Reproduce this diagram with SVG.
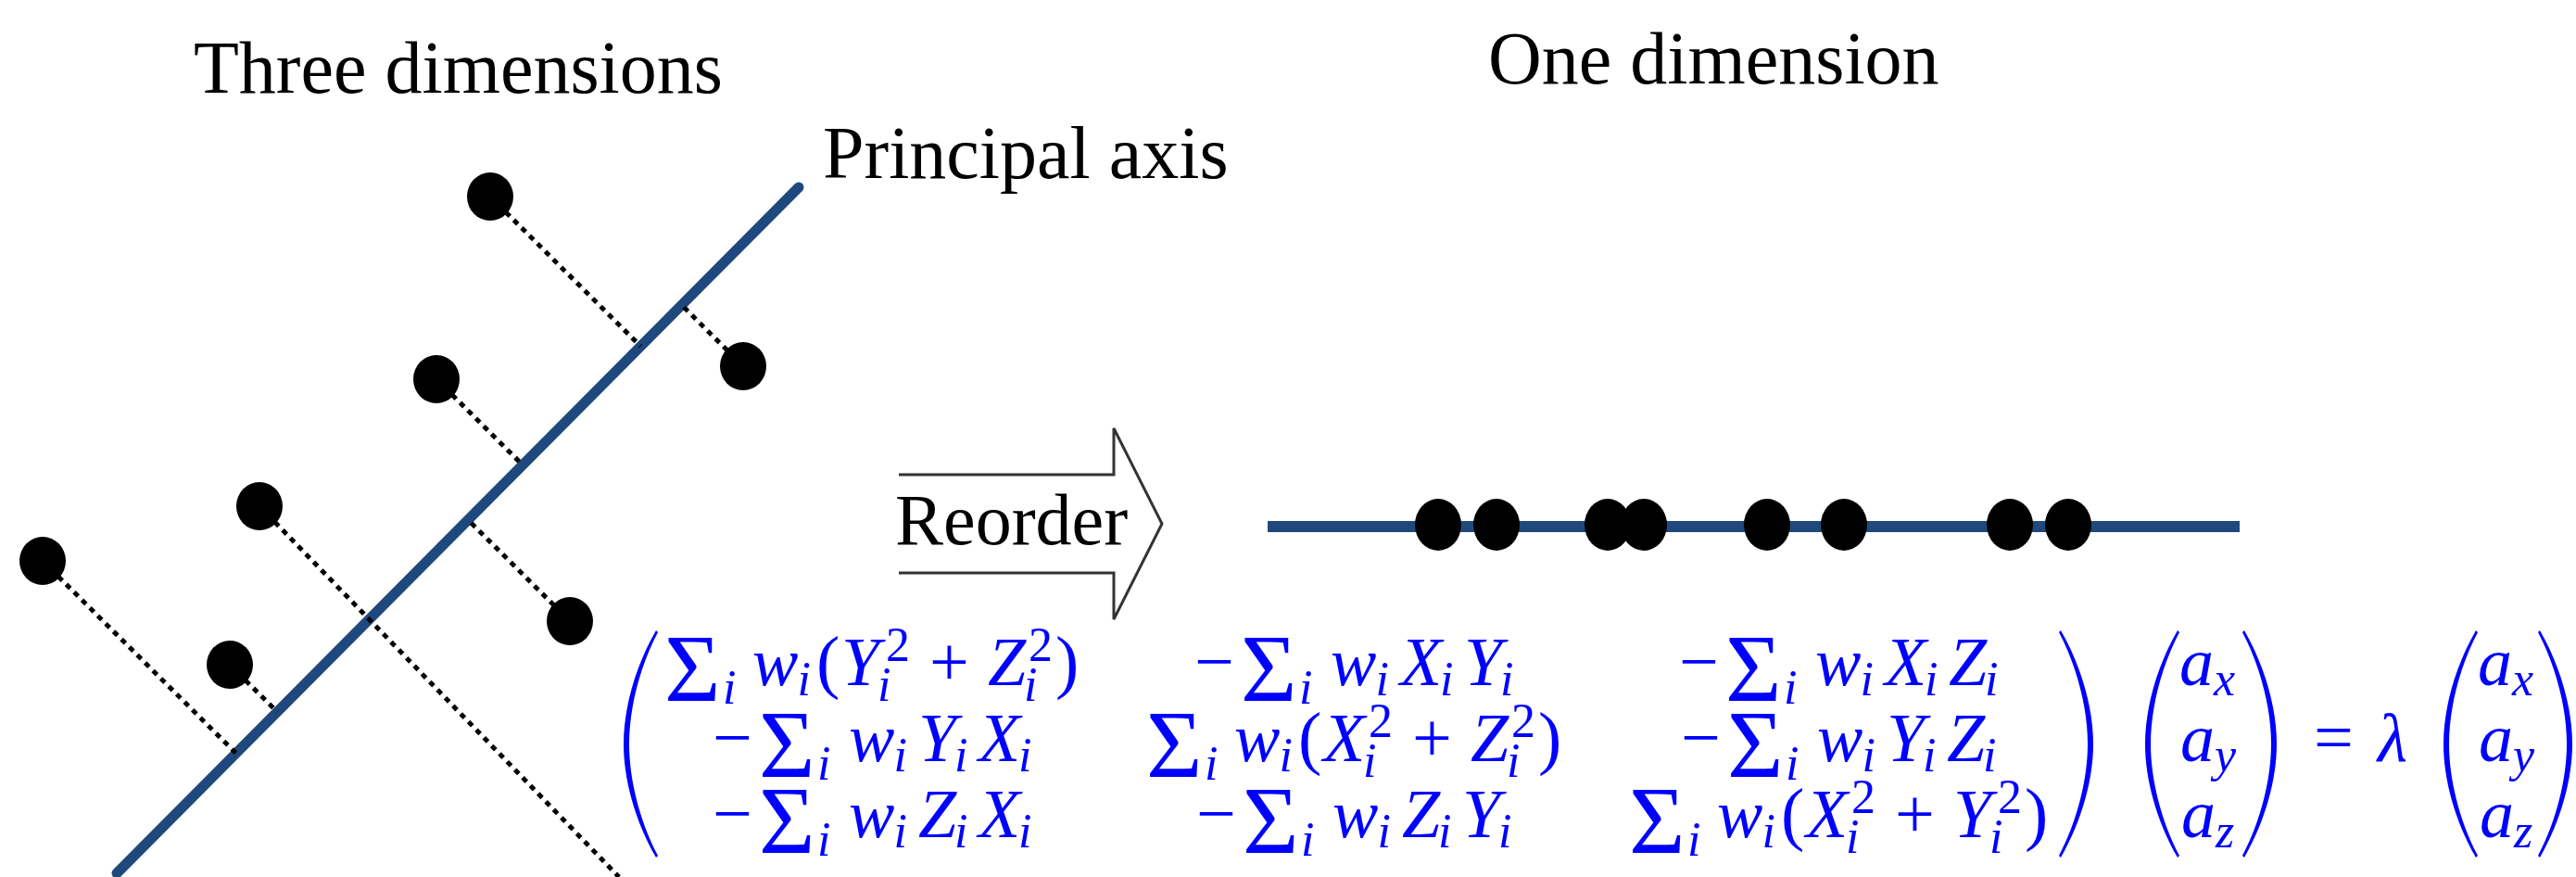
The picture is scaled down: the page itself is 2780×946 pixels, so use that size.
<svg xmlns="http://www.w3.org/2000/svg" width="2780" height="946" viewBox="0 0 2780 946">
<style>
.title{font-family:"Liberation Serif","Times New Roman",serif;font-size:80px;fill:#000}
.dot{fill:#000}
.axis{stroke:#1F497D;stroke-width:11;fill:none}
.proj{stroke:#000;stroke-width:5;stroke-dasharray:6 6;fill:none}
.arrow{fill:none;stroke:#333;stroke-width:3;stroke-linejoin:miter}
.m{font-family:"Liberation Serif","Times New Roman",serif;fill:#0000FF;font-style:italic;font-size:74px}
.s{font-style:italic;font-size:52px}
.n{font-style:normal;font-size:52px}
.o{font-style:normal;font-size:76px}
.S{font-style:normal;font-size:104px}
.par{fill:#0000FF}
</style>
<defs>
<path id="lp" d="M35,0 C12,40 0,85 0,122.5 C0,160 12,205 35,245 L37,243 C17,205 6,160 6,122.5 C6,85 17,40 37,2 Z"/>
</defs>
<rect width="2780" height="946" fill="#fff"/>

<g id="titles">
<text class="title" x="209" y="100">Three dimensions</text>
<text class="title" x="1606" y="90">One dimension</text>
<text class="title" x="888" y="192">Principal axis</text>
</g>

<g id="principal-axis">
<line class="axis" x1="126" y1="942" x2="862" y2="202" stroke-linecap="round"/>
</g>

<g id="connectors">
<line class="proj" x1="529" y1="212" x2="691.4" y2="373.6"/>
<line class="proj" x1="802" y1="395" x2="735.6" y2="329"/>
<line class="proj" x1="471" y1="409" x2="564.1" y2="501.6"/>
<line class="proj" x1="280" y1="546" x2="668" y2="946"/>
<line class="proj" x1="46" y1="605" x2="254.7" y2="812.5"/>
<line class="proj" x1="615" y1="670" x2="505.2" y2="560.8"/>
<line class="proj" x1="248" y1="717" x2="299.2" y2="767.9"/>
</g>

<g id="points3d">
<ellipse id="p1" class="dot" cx="529" cy="212" rx="25" ry="26"/>
<ellipse id="p2" class="dot" cx="802" cy="395" rx="25" ry="26"/>
<ellipse id="p3" class="dot" cx="471" cy="409" rx="25" ry="26"/>
<ellipse id="p4" class="dot" cx="280" cy="546" rx="25" ry="26"/>
<ellipse id="p5" class="dot" cx="46" cy="605" rx="25" ry="26"/>
<ellipse id="p6" class="dot" cx="615" cy="670" rx="25" ry="26"/>
<ellipse id="p7" class="dot" cx="248" cy="717" rx="25" ry="26"/>
</g>

<g id="reorder-arrow">
<polyline class="arrow" points="970,512 1202,512 1202,462 1254,565 1202,668 1202,618 970,618"/>
<text class="title" x="966" y="587" style="font-size:78px">Reorder</text>
</g>

<g id="line1d">
<line x1="1368" y1="568" x2="2417" y2="568" stroke="#1F497D" stroke-width="12"/>
<ellipse class="dot" cx="1552" cy="566" rx="25" ry="28"/>
<ellipse class="dot" cx="1615" cy="566" rx="25" ry="28"/>
<ellipse class="dot" cx="1735" cy="566" rx="25" ry="28"/>
<ellipse class="dot" cx="1774" cy="566" rx="25" ry="28"/>
<ellipse class="dot" cx="1907" cy="566" rx="25" ry="28"/>
<ellipse class="dot" cx="1990" cy="566" rx="25" ry="28"/>
<ellipse class="dot" cx="2169" cy="566" rx="25" ry="28"/>
<ellipse class="dot" cx="2232" cy="566" rx="25" ry="28"/>
</g>

<g id="equation">
<use href="#lp" class="par" transform="translate(673,680)"/>
<use href="#lp" class="par" transform="translate(2259,680) scale(-1,1)"/>
<use href="#lp" class="par" transform="translate(2315,680)"/>
<use href="#lp" class="par" transform="translate(2457,680) scale(-1,1)"/>
<use href="#lp" class="par" transform="translate(2637,680)"/>
<use href="#lp" class="par" transform="translate(2776,680) scale(-1,1)"/>
<text class="m"><tspan class="S" x="717" y="756">Σ</tspan><tspan class="s" x="780" y="759">i</tspan><tspan x="812" y="739">w</tspan><tspan class="s" x="860.5" y="750">i</tspan><tspan class="o" x="881" y="739">(</tspan><tspan x="908" y="739">Y</tspan><tspan class="s" x="947" y="756">i</tspan><tspan class="n" x="956" y="713">2</tspan><tspan class="o" x="1003" y="739">+</tspan><tspan x="1066" y="739">Z</tspan><tspan class="s" x="1105" y="756">i</tspan><tspan class="n" x="1110" y="713">2</tspan><tspan class="o" x="1139" y="739">)</tspan><tspan class="o" x="1289" y="739">−</tspan><tspan class="S" x="1339" y="756">Σ</tspan><tspan class="s" x="1402" y="759">i</tspan><tspan x="1436" y="739">w</tspan><tspan class="s" x="1484.5" y="750">i</tspan><tspan x="1511" y="739">X</tspan><tspan class="s" x="1554" y="750">i</tspan><tspan x="1580" y="739">Y</tspan><tspan class="s" x="1619" y="750">i</tspan><tspan class="o" x="1812" y="739">−</tspan><tspan class="S" x="1862" y="756">Σ</tspan><tspan class="s" x="1925" y="759">i</tspan><tspan x="1959" y="739">w</tspan><tspan class="s" x="2007.5" y="750">i</tspan><tspan x="2034" y="739">X</tspan><tspan class="s" x="2077" y="750">i</tspan><tspan x="2103" y="739">Z</tspan><tspan class="s" x="2142" y="750">i</tspan><tspan class="o" x="769" y="821">−</tspan><tspan class="S" x="819" y="838">Σ</tspan><tspan class="s" x="882" y="841">i</tspan><tspan x="916" y="821">w</tspan><tspan class="s" x="964.5" y="832">i</tspan><tspan x="991" y="821">Y</tspan><tspan class="s" x="1030" y="832">i</tspan><tspan x="1056" y="821">X</tspan><tspan class="s" x="1099" y="832">i</tspan><tspan class="S" x="1237" y="838">Σ</tspan><tspan class="s" x="1300" y="841">i</tspan><tspan x="1332" y="821">w</tspan><tspan class="s" x="1380.5" y="832">i</tspan><tspan class="o" x="1401" y="821">(</tspan><tspan x="1428" y="821">X</tspan><tspan class="s" x="1471" y="838">i</tspan><tspan class="n" x="1477" y="795">2</tspan><tspan class="o" x="1524" y="821">+</tspan><tspan x="1587" y="821">Z</tspan><tspan class="s" x="1626" y="838">i</tspan><tspan class="n" x="1631" y="795">2</tspan><tspan class="o" x="1660" y="821">)</tspan><tspan class="o" x="1814" y="821">−</tspan><tspan class="S" x="1864" y="838">Σ</tspan><tspan class="s" x="1927" y="841">i</tspan><tspan x="1961" y="821">w</tspan><tspan class="s" x="2009.5" y="832">i</tspan><tspan x="2036" y="821">Y</tspan><tspan class="s" x="2075" y="832">i</tspan><tspan x="2101" y="821">Z</tspan><tspan class="s" x="2140" y="832">i</tspan><tspan class="o" x="769" y="903">−</tspan><tspan class="S" x="819" y="920">Σ</tspan><tspan class="s" x="882" y="923">i</tspan><tspan x="916" y="903">w</tspan><tspan class="s" x="964.5" y="914">i</tspan><tspan x="991" y="903">Z</tspan><tspan class="s" x="1030" y="914">i</tspan><tspan x="1056" y="903">X</tspan><tspan class="s" x="1099" y="914">i</tspan><tspan class="o" x="1291" y="903">−</tspan><tspan class="S" x="1341" y="920">Σ</tspan><tspan class="s" x="1404" y="923">i</tspan><tspan x="1438" y="903">w</tspan><tspan class="s" x="1486.5" y="914">i</tspan><tspan x="1513" y="903">Z</tspan><tspan class="s" x="1552" y="914">i</tspan><tspan x="1578" y="903">Y</tspan><tspan class="s" x="1617" y="914">i</tspan><tspan class="S" x="1758" y="920">Σ</tspan><tspan class="s" x="1821" y="923">i</tspan><tspan x="1853" y="903">w</tspan><tspan class="s" x="1901.5" y="914">i</tspan><tspan class="o" x="1922" y="903">(</tspan><tspan x="1949" y="903">X</tspan><tspan class="s" x="1992" y="920">i</tspan><tspan class="n" x="1998" y="877">2</tspan><tspan class="o" x="2045" y="903">+</tspan><tspan x="2108" y="903">Y</tspan><tspan class="s" x="2147" y="920">i</tspan><tspan class="n" x="2156" y="877">2</tspan><tspan class="o" x="2185" y="903">)</tspan><tspan x="2352" y="739">a</tspan><tspan class="s" x="2389" y="750">x</tspan><tspan x="2353" y="821">a</tspan><tspan class="s" x="2390" y="832">y</tspan><tspan x="2354" y="903">a</tspan><tspan class="s" x="2391" y="914">z</tspan><tspan class="o" x="2497" y="821">=</tspan><tspan x="2566" y="821">λ</tspan><tspan x="2674" y="739">a</tspan><tspan class="s" x="2711" y="750">x</tspan><tspan x="2675" y="821">a</tspan><tspan class="s" x="2712" y="832">y</tspan><tspan x="2676" y="903">a</tspan><tspan class="s" x="2713" y="914">z</tspan></text>
</g>
</svg>
